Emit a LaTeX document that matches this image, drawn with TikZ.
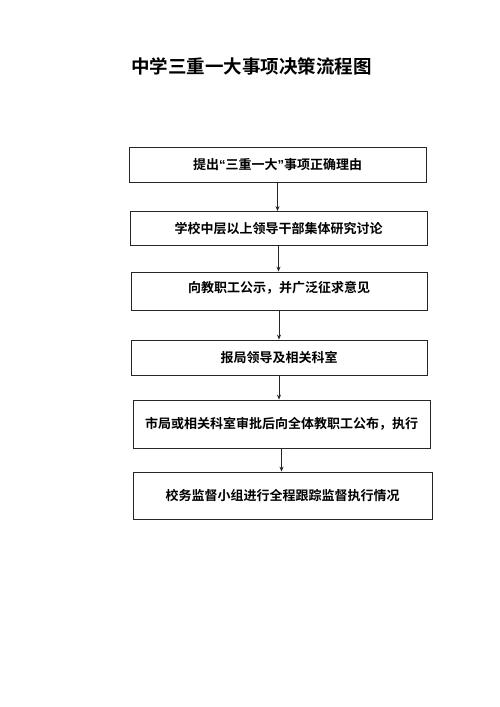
\documentclass[tikz,border=0pt]{standalone}
\usepackage{fontspec}
\setmainfont{Noto Sans CJK SC}[BoldFont={Noto Sans CJK SC Bold}]
\newfontfamily\latinq{Liberation Sans}
\usetikzlibrary{arrows.meta}
\begin{document}
\begin{tikzpicture}[x=1pt,y=-1pt,
  box/.style={draw=black!85, line width=0.8pt, rectangle, inner sep=0pt,
    font=\fontsize{13}{15}\selectfont\bfseries},
  arr/.style={draw=black!85, line width=0.8pt, -{Stealth[length=5pt,width=4pt]}},
  ttl/.style={font=\fontsize{18.5}{22}\selectfont\bfseries}]
\useasboundingbox[fill=white] (0,0) rectangle (500,707);
\node[ttl] (title) at (251.5,66) {中学三重一大事项决策流程图};
\node[box, minimum width=297pt, minimum height=35pt] (b1) at (277.5,164.5) {提出{\latinq\bfseries “}三重一大{\latinq\bfseries ”}事项正确理由};
\node[box, minimum width=297pt, minimum height=34pt] (b2) at (278.5,228.5) {学校中层以上领导干部集体研究讨论};
\node[box, minimum width=296pt, minimum height=38pt] (b3) at (279,291) {\raisebox{8pt}{向教职工公示，并广泛征求意见}};
\node[box, minimum width=296pt, minimum height=35pt] (b4) at (279,357.5) {报局领导及相关科室};
\node[box, minimum width=297pt, minimum height=48pt] (b5) at (281.5,424) {市局或相关科室审批后向全体教职工公布，执行};
\node[box, minimum width=299pt, minimum height=47pt] (b6) at (282.5,495.5) {校务监督小组进行全程跟踪监督执行情况};
\draw[arr] (b1.south) -- (b1.south |- b2.north);
\draw[arr] (b2.south) -- (b2.south |- b3.north);
\draw[arr] (b3.south) -- (b3.south |- b4.north);
\draw[arr] (b4.south) -- (b4.south |- b5.north);
\draw[arr] (b5.south) -- (b5.south |- b6.north);
\end{tikzpicture}
\end{document}
